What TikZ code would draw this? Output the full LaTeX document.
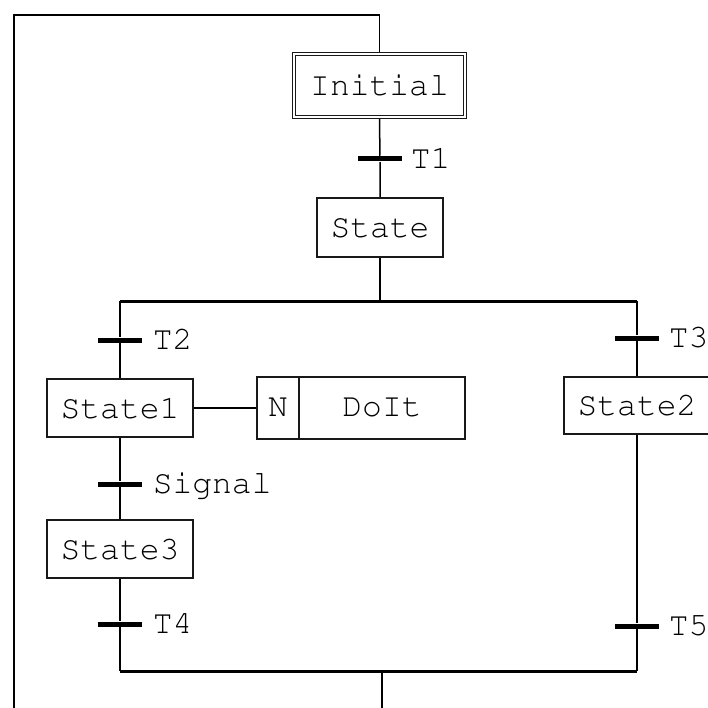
\documentclass[tikz,border=0pt]{standalone}
\usepackage[T1]{fontenc}
\newcommand{\courfont}{\fontencoding{T1}\fontfamily{pcr}\fontseries{m}\fontshape{n}\fontsize{33}{36}\selectfont}
\begin{document}
\begin{tikzpicture}[x=1pt,y=-1pt,line width=1.5pt,
  stepbox/.style={draw=black!90, line width=1.5pt, minimum width=146pt, minimum height=58pt, inner sep=0pt,
    font=\courfont, text=black},
  bar/.style={fill=black, draw=none, minimum width=44pt, minimum height=5pt, inner sep=0pt},
  lbl/.style={anchor=west, inner sep=0pt, text height=19pt, text depth=0pt,
    font=\courfont, text=black},
  sync/.style={line width=3pt}]
\useasboundingbox[fill=white] (0,0) rectangle (707,708);
% steps
\node[stepbox, double, double distance=2pt, line width=1.2pt, outer sep=2.2pt,
      minimum width=171pt, minimum height=63pt] (init) at (379.5,85.5) {Initial};
\node[stepbox, minimum width=126pt, minimum height=59pt] (st) at (380,227.5) {State};
\node[stepbox] (s1) at (120,408) {State1};
\node[stepbox, minimum height=57pt] (s2) at (637,405.5) {State2};
\node[stepbox] (s3) at (120,549) {State3};
\node[stepbox, minimum width=42pt, minimum height=62pt] (actn) at (278,408) {N};
\node[stepbox, minimum width=166pt, minimum height=62pt] (actd) at (382,408) {DoIt};
% transitions
\node[bar] (t1) at (380,159) {};
\node[bar] (t2) at (120,340) {};
\node[bar] (t3) at (637,338) {};
\node[bar] (tsig) at (120,484) {};
\node[bar] (t4) at (120,624) {};
\node[bar] (t5) at (637,626) {};
\node[lbl] (l1) at (410,159) {T1};
\node[lbl] (l2) at (152,340) {T2};
\node[lbl] (l3) at (668,338) {T3};
\node[lbl] (lsig) at (152,484) {Signal};
\node[lbl] (l4) at (152,624) {T4};
\node[lbl] (l5) at (668,626) {T5};
% coordinates
\coordinate (lbot) at (14,712);
\coordinate (ltop) at (14,15);
\coordinate (rtop) at (379.5,15);
\coordinate (dl) at (120,301);
\coordinate (dr) at (637,301);
\coordinate (dm) at (380,301);
\coordinate (cl) at (120,671);
\coordinate (cr) at (637,671);
\coordinate (cm) at (382,671);
\coordinate (bot) at (382,712);
% connectors
\draw (lbot) -- (ltop) -- (rtop) -- (init.north);
\draw (init.south) -- (t1) -- (st.north);
\draw (st.south) -- (dm);
\draw[sync] (dl) -- (dr);
\draw (dl) -- (t2) -- (s1.north);
\draw (s1.south) -- (tsig) -- (s3.north);
\draw (s3.south) -- (t4) -- (cl);
\draw (dr) -- (t3) -- (s2.north);
\draw (s2.south) -- (t5) -- (cr);
\draw[sync] (cl) -- (cr);
\draw (cm) -- (bot);
\draw (s1.east) -- (actn.west);
\end{tikzpicture}
\end{document}
